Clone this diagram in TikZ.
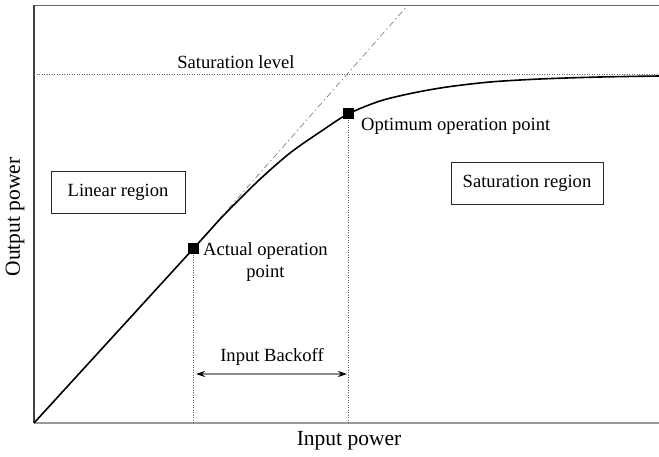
\documentclass[tikz,border=0pt]{standalone}
\usepackage{fontspec}
\setmainfont{Liberation Serif}
\usetikzlibrary{arrows.meta}
\begin{document}
\begin{tikzpicture}[x=1pt,y=-1pt,
  lbl/.style={font=\fontsize{18.6}{22}\selectfont, inner sep=0pt},
  axlbl/.style={font=\fontsize{21.5}{25}\selectfont, inner sep=0pt},
  regbox/.style={draw=black!85, line width=0.6pt, font=\fontsize{18.6}{22}\selectfont, inner sep=0pt},
  opnt/.style={fill=black, minimum size=11pt, inner sep=0pt},
  vdot/.style={black!65, line width=0.7pt, dash pattern=on 1.2pt off 1.3pt},
  hdot/.style={black!60, line width=0.7pt, dash pattern=on 1.2pt off 1.3pt},
  dashdot/.style={black!55, line width=0.6pt, dash pattern=on 6pt off 3pt on 1.5pt off 3pt},
  curve/.style={black, line width=1.6pt},
  arr/.style={{Stealth[length=9pt,width=6pt,black]}-{Stealth[length=9pt,width=6pt,black]}, black!45, line width=1.8pt}]
\useasboundingbox (0,0) rectangle (659,457);
% axes
\coordinate (o) at (34,423);
\coordinate (tl) at (34,5);
\coordinate (tr) at (659,5);
\coordinate (br) at (659,423);
\draw[black!60, line width=0.8pt] (tr) -- (tl);
\draw[black!75, line width=1.2pt] (tl) -- (o);
\draw[black!40, line width=2pt] (o) -- (br);
% saturation level
\coordinate (sl) at (34,74);
\coordinate (sr) at (659,74);
\draw[hdot] (sl) -- (sr);
\node[lbl] (satl) at (236,62) {Saturation level};
% asymptote
\coordinate (asy) at (408,5);
% operation points
\node[opnt] (act) at (193,249) {};
\node[opnt] (opt) at (348,114) {};
\draw[dashdot] (act.center) -- (asy);
% curve
\draw[curve] plot[smooth, tension=0.5] coordinates {(34,423) (193,249) (223,216) (257,182) (290,153) (323,130) (348,114) (380,101) (413,93) (447,87) (490,82) (540,79) (600,77) (659,76)};
\node[opnt] at (act) {};
\node[opnt] at (opt) {};
% verticals
\draw[vdot] (act.south) -- (act |- o);
\draw[vdot] (opt.south) -- (opt |- o);
% labels
\node[lbl, anchor=west, align=center] (actl) at (203,262) {Actual operation\\point};
\node[lbl, anchor=west] (optl) at (361,126) {Optimum operation point};
% backoff
\coordinate (ba) at (196,374);
\coordinate (bb) at (347,374);
\draw[arr] (ba) -- (bb);
\node[lbl] (bol) at (272,357) {Input Backoff};
% region boxes
\node[regbox, minimum width=134pt, minimum height=42pt] (lin) at (118,192) {Linear region};
\node[regbox, minimum width=152pt, minimum height=42pt] (sat) at (527,183) {Saturation region};
% axis labels
\node[axlbl] (xl) at (349,441) {Input power};
\node[axlbl, rotate=90] (yl) at (15,217) {Output power};
\end{tikzpicture}
\end{document}
